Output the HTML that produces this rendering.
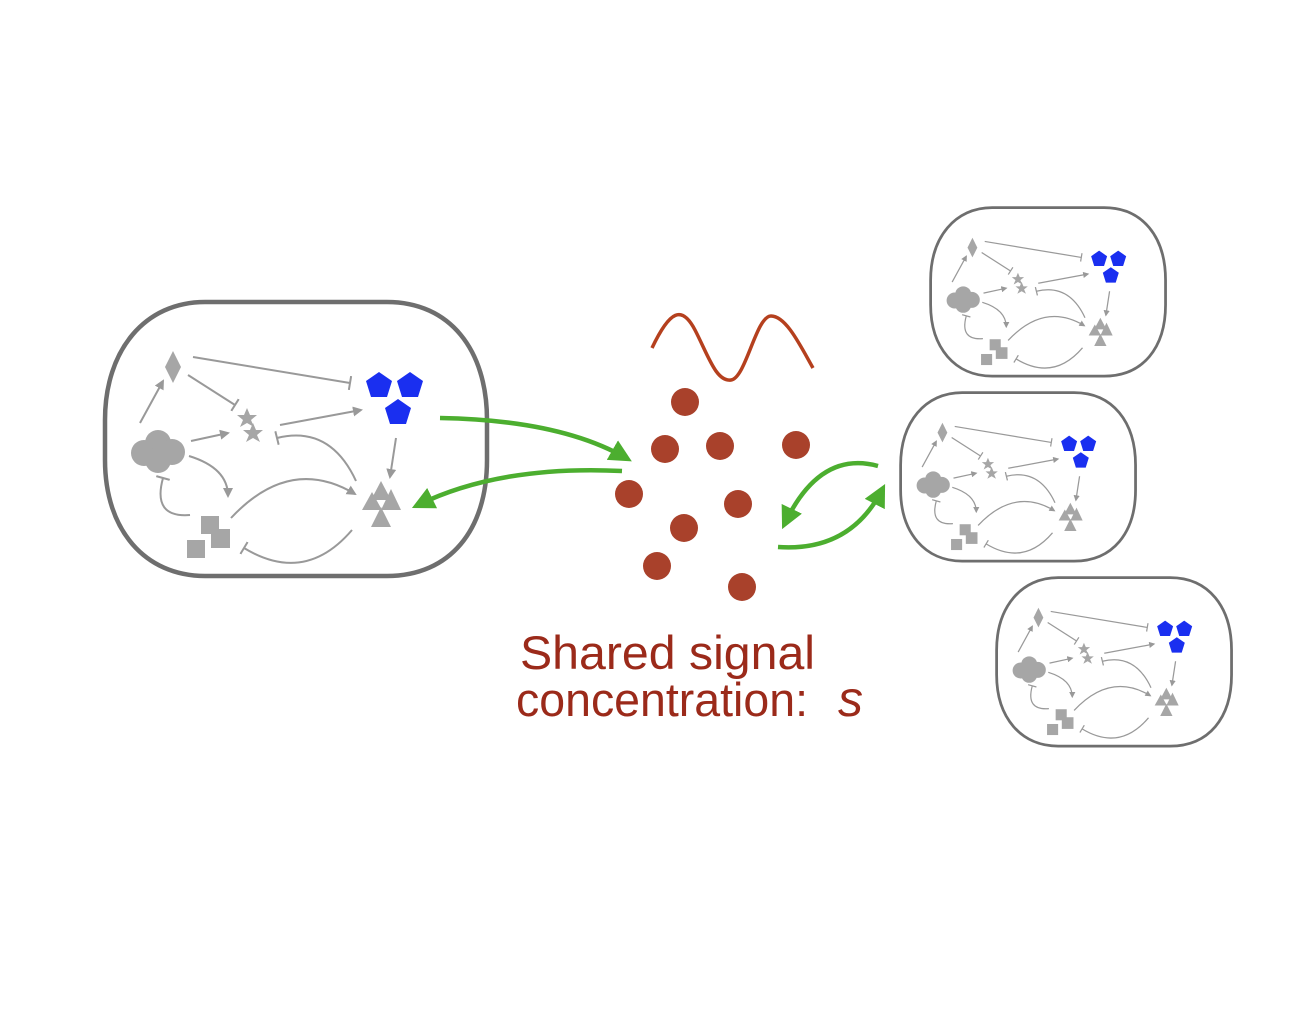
<!DOCTYPE html>
<html><head><meta charset="utf-8"><style>
html,body{margin:0;padding:0;background:#fff;}
svg{display:block;}
</style></head><body>
<svg width="1316" height="1014" viewBox="0 0 1316 1014" xmlns="http://www.w3.org/2000/svg">
<defs>
<marker id="ga" viewBox="0 0 10 10" refX="8" refY="5" markerWidth="5" markerHeight="5" orient="auto"><path d="M0,0 L10,5 L0,10 z" fill="#999"/></marker>
<marker id="gi" viewBox="0 0 4 14" refX="2" refY="7" markerWidth="3" markerHeight="7" orient="auto"><rect x="1" y="0" width="2" height="14" fill="#999"/></marker>
<marker id="gr" viewBox="0 0 10 10" refX="7" refY="5" markerWidth="5" markerHeight="5" orient="auto"><path d="M0,0 L10,5 L0,10 z" fill="#4cae2f"/></marker>
<g id="cell">
<path d="M205,302 L387,302 C450,302 487,350 487,420 L487,460 C487,530 450,576 387,576 L205,576 C145,576 105,530 105,460 L105,420 C105,350 145,302 205,302 Z" fill="none" stroke="#6e6e6e" stroke-width="4.5"/>
<polygon points="173,351 181,367 173,383 165,367" fill="#a6a6a6"/>
<g fill="#a6a6a6"><circle cx="144" cy="453" r="13"/><circle cx="158" cy="443" r="13"/><circle cx="172" cy="452" r="13"/><circle cx="158" cy="460" r="13"/></g>
<g fill="#a6a6a6">
<polygon points="247,408 250,415 257,415 251,420 254,427 247,423 240,427 243,420 237,415 244,415"/>
<polygon points="253,423 256,430 263,430 257,435 260,442 253,438 246,442 249,435 243,430 250,430"/>
</g>
<g fill="#1a2ff0">
<polygon points="379,372 392,381 387,397 371,397 366,381"/>
<polygon points="410,372 423,381 418,397 402,397 397,381"/>
<polygon points="398,399 411,408 406,424 390,424 385,408"/>
</g>
<g fill="#a6a6a6">
<polygon points="381,481 391,500 371,500"/><polygon points="391,489 401,510 381,510"/><polygon points="372,492 382,510 362,510"/><polygon points="381,507 391,527 371,527"/>
</g>
<g fill="#a6a6a6"><rect x="201" y="516" width="18" height="18"/><rect x="211" y="529" width="19" height="19"/><rect x="187" y="540" width="18" height="18"/></g>
<g fill="none" stroke="#999" stroke-width="2">
<path d="M140,423 L163,381" marker-end="url(#ga)"/>
<path d="M193,357 L350,383" marker-end="url(#gi)"/>
<path d="M188,375 L235,405" marker-end="url(#gi)"/>
<path d="M191,441 L228,433" marker-end="url(#ga)"/>
<path d="M280,425 L361,410" marker-end="url(#ga)"/>
<path d="M396,438 L390,477" marker-end="url(#ga)"/>
<path d="M356,481 Q330,425 277,438" marker-end="url(#gi)"/>
<path d="M189,456 Q228,468 228,496" marker-end="url(#ga)"/>
<path d="M190,515 Q152,518 163,478" marker-end="url(#gi)"/>
<path d="M231,518 Q290,455 355,494" marker-end="url(#ga)"/>
<path d="M352,530 Q305,585 244,548" marker-end="url(#gi)"/>
</g>
</g>
</defs>
<use href="#cell"/>
<use href="#cell" transform="translate(930,207) scale(0.615) translate(-104,-301)"/>
<use href="#cell" transform="translate(900,392) scale(0.615) translate(-104,-301)"/>
<use href="#cell" transform="translate(996,577) scale(0.615) translate(-104,-301)"/>
<g fill="none" stroke="#4cae2f" stroke-width="4.5">
<path d="M440,418 Q560,420 626,458" marker-end="url(#gr)"/>
<path d="M622,471 Q500,465 418,505" marker-end="url(#gr)"/>
<path d="M878,466 Q820,450 785,523" marker-end="url(#gr)"/>
<path d="M778,547 Q850,552 882,490" marker-end="url(#gr)"/>
</g>
<path d="M652,348 C670,310 682,305 695,330 C708,355 716,382 731,380 C746,378 756,316 771,316 C786,316 800,345 813,368" fill="none" stroke="#b5401e" stroke-width="3.5"/>
<g fill="#a9412b">
<circle cx="685" cy="402" r="14"/><circle cx="665" cy="449" r="14"/><circle cx="720" cy="446" r="14"/><circle cx="796" cy="445" r="14"/><circle cx="629" cy="494" r="14"/><circle cx="738" cy="504" r="14"/><circle cx="684" cy="528" r="14"/><circle cx="657" cy="566" r="14"/><circle cx="742" cy="587" r="14"/>
</g>
<text x="520" y="669" font-family="Liberation Sans, sans-serif" font-size="47" fill="#9b2a1a" textLength="295" lengthAdjust="spacingAndGlyphs">Shared signal</text>
<text x="516" y="716" font-family="Liberation Sans, sans-serif" font-size="47" fill="#9b2a1a" textLength="292" lengthAdjust="spacingAndGlyphs">concentration:</text>
<text x="838" y="716" font-family="Liberation Sans, sans-serif" font-size="50" font-style="italic" fill="#9b2a1a">s</text>
</svg>
</body></html>
